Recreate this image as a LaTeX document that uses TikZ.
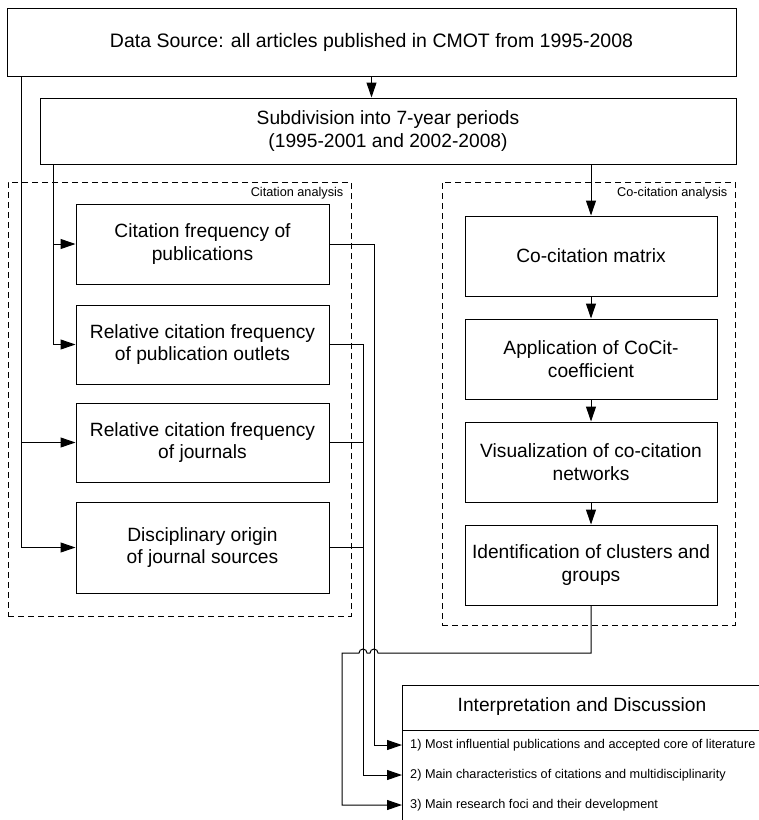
\documentclass[tikz,border=0pt]{standalone}
\usepackage{fontspec}
\setmainfont{Liberation Sans}
\usetikzlibrary{arrows.meta,calc}
\begin{document}
\begin{tikzpicture}[x=1pt,y=-1pt,
  box/.style={draw,line width=1pt,align=center,inner sep=0pt,font=\fontsize{19.2}{22.8}\selectfont},
  grp/.style={draw,line width=1pt,dash pattern=on 6pt off 4pt,inner sep=0pt},
  conn/.style={line width=1pt},
  arr/.style={conn,-{Triangle[length=15pt,width=10pt]}},
  small/.style={font=\fontsize{12.7}{15}\selectfont,inner sep=0pt}]
\useasboundingbox (0,0) rectangle (759,820);
\clip (0,0) rectangle (759,820);

% groups
\node[grp,minimum width=343pt,minimum height=434pt] (cagrp) at (179.5,399) {};
\node[grp,minimum width=293pt,minimum height=443pt] (ccgrp) at (588.5,403.5) {};
\node[small,anchor=north east] at ($(cagrp.north east)+(-8,6)$) {Citation analysis};
\node[small,anchor=north east] at ($(ccgrp.north east)+(-8,6)$) {Co-citation analysis};

% top boxes
\node[box,minimum width=729pt,minimum height=68pt,font=\fontsize{19.5}{23}\selectfont] (ds) at (371.5,42) {Data Source: all articles published in CMOT from 1995-2008};
\node[box,minimum width=696pt,minimum height=66pt] (sub) at (388,131) {Subdivision into 7-year periods\\(1995-2001 and 2002-2008)};

% citation analysis boxes
\node[box,minimum width=253pt,minimum height=80pt] (cf) at (202.5,244) {Citation frequency of\\publications};
\node[box,minimum width=253pt,minimum height=79pt] (ro) at (202.5,344.5) {Relative citation frequency\\of publication outlets};
\node[box,minimum width=253pt,minimum height=79pt] (rj) at (202.5,442.5) {Relative citation frequency\\of journals};
\node[box,minimum width=253pt,minimum height=91pt] (dj) at (202.5,547.5) {Disciplinary origin\\of journal sources};

% co-citation boxes
\node[box,minimum width=252pt,minimum height=80pt] (cm) at (591,256) {Co-citation matrix};
\node[box,minimum width=252pt,minimum height=80pt] (ap) at (591,359) {Application of CoCit-\\coefficient};
\node[box,minimum width=252pt,minimum height=80pt] (vi) at (591,462) {Visualization of co-citation\\networks};
\node[box,minimum width=252pt,minimum height=80pt] (id) at (591,565) {Identification of clusters and\\groups};

% interpretation box
\node[draw,line width=1pt,minimum width=420pt,minimum height=170pt,anchor=north west,inner sep=0pt] (ib) at (402,685) {};
\coordinate (sep) at (0,730);
\draw[conn] (ib.west |- sep) -- (ib.east |- sep);
\node[font=\fontsize{19.2}{22.8}\selectfont,inner sep=0pt] (it) at (582,707) {Interpretation and Discussion};
\node[small,anchor=west] (i1) at (410,745) {1) Most influential publications and accepted core of literature};
\node[small,anchor=west] (i2) at (410,775) {2) Main characteristics of citations and multidisciplinarity};
\node[small,anchor=west] (i3) at (410,805) {3) Main research foci and their development};

% helper coordinates
\coordinate (xL) at (21,0);
\coordinate (xM) at (53,0);
\coordinate (xR1) at (374,0);
\coordinate (xR2) at (363,0);
\coordinate (xC) at (342,0);
\coordinate (hop) at (0,653);

% top arrows
\draw[arr] (ds.south) -- (ds.south |- sub.north);
\draw[arr] (cm.north |- sub.south) -- (cm.north);

% left feeders
\draw[arr] (ds.south -| xL) |- (dj.west);
\draw[arr] (xL |- rj.west) -- (rj.west);
\draw[arr] (sub.south -| xM) |- (ro.west);
\draw[arr] (xM |- cf.west) -- (cf.west);

% co-citation chain
\draw[arr] (cm) -- (ap);
\draw[arr] (ap) -- (vi);
\draw[arr] (vi) -- (id);

% outputs to interpretation
\draw[arr] (cf.east) -| (xR1 |- i1.west) -- (ib.west |- i1.west);
\draw[arr] (ro.east) -| (xR2 |- i2.west) -- (ib.west |- i2.west);
\draw[conn] (rj.east) -- (xR2 |- rj.east);
\draw[conn] (dj.east) -- (xR2 |- dj.east);
\draw[arr] (id.south) -- (id.south |- hop) -- ($(xR1 |- hop)+(4,0)$)
  arc[start angle=0,end angle=180,radius=4pt] -- ($(xR2 |- hop)+(4,0)$)
  arc[start angle=0,end angle=180,radius=4pt] -- (xC |- hop) -- (xC |- i3.west) -- (ib.west |- i3.west);
\end{tikzpicture}
\end{document}
